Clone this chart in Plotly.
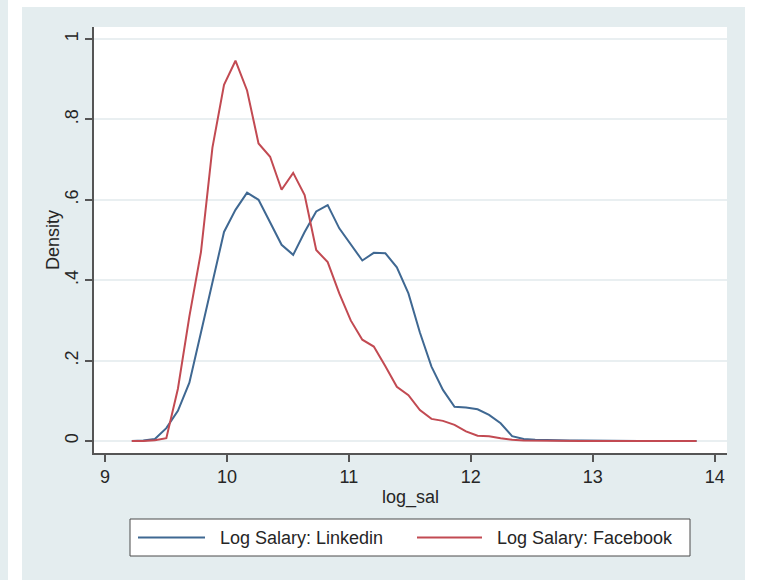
import plotly.graph_objects as go

# Kernel density estimates of log salary, evaluated on a common grid
log_sal = [9.220, 9.314, 9.409, 9.503, 9.598, 9.692, 9.787, 9.881, 9.976, 10.070,
           10.165, 10.259, 10.354, 10.448, 10.543, 10.637, 10.732, 10.826, 10.921, 11.015,
           11.110, 11.204, 11.299, 11.393, 11.488, 11.582, 11.677, 11.771, 11.866, 11.960,
           12.055, 12.149, 12.244, 12.338, 12.433, 12.527, 12.622, 12.716, 12.811, 12.905,
           13.000, 13.094, 13.189, 13.283, 13.378, 13.472, 13.567, 13.661, 13.756, 13.850]

density_linkedin = [0.000, 0.001, 0.005, 0.032, 0.075, 0.145, 0.270, 0.395, 0.520, 0.575,
                    0.618, 0.600, 0.542, 0.488, 0.463, 0.520, 0.571, 0.587, 0.529, 0.488,
                    0.449, 0.468, 0.467, 0.432, 0.367, 0.270, 0.185, 0.127, 0.085, 0.083,
                    0.079, 0.065, 0.044, 0.012, 0.005, 0.003, 0.002, 0.0015, 0.001, 0.001,
                    0.0005, 0.0005, 0.0, 0.0, 0.0, 0.0, 0.0, 0.0, 0.0, 0.0]

density_facebook = [0.000, 0.000, 0.002, 0.007, 0.130, 0.310, 0.470, 0.730, 0.886, 0.946,
                    0.872, 0.740, 0.707, 0.625, 0.667, 0.612, 0.475, 0.445, 0.367, 0.300,
                    0.252, 0.235, 0.186, 0.135, 0.114, 0.077, 0.055, 0.050, 0.040, 0.024,
                    0.013, 0.012, 0.007, 0.003, 0.001, 0.0005, 0.0005, 0.0, 0.0, 0.0,
                    0.0, 0.0, 0.0, 0.0, 0.0, 0.0, 0.0, 0.0, 0.0, 0.0]

x_ticks = [9, 10, 11, 12, 13, 14]
y_ticks = [0, 0.2, 0.4, 0.6, 0.8, 1]
y_tick_text = ["0", ".2", ".4", ".6", ".8", "1"]

series_names = ["Log Salary: Linkedin", "Log Salary: Facebook"]
series_colors = ["#3f6892", "#c24a52"]

FONT = "Liberation Sans, Arial, sans-serif"
TEXT = "#262626"
REGION = "#e4edef"

fig = go.Figure()
for ys, name, col in zip([density_linkedin, density_facebook], series_names, series_colors):
    fig.add_trace(go.Scatter(x=log_sal, y=ys, mode="lines", name=name,
                             line=dict(color=col, width=2), showlegend=False))

# pixel -> paper helpers (plot area spans x 94..727, y 27..453)
L, R, T, B = 94, 727, 27, 453
W, H = 759, 580
def px(x):
    return (x - L) / (R - L)
def py(y):
    return (B - y) / (B - T)

shapes = []
# white strips around the graph region
shapes.append(dict(type="rect", xref="paper", yref="paper", x0=px(8), x1=px(22), y0=py(H), y1=py(0),
                   fillcolor="white", line=dict(width=0), layer="below"))
shapes.append(dict(type="rect", xref="paper", yref="paper", x0=px(8), x1=px(W), y0=py(7), y1=py(0),
                   fillcolor="white", line=dict(width=0), layer="below"))
shapes.append(dict(type="rect", xref="paper", yref="paper", x0=px(745), x1=px(W), y0=py(H), y1=py(0),
                   fillcolor="white", line=dict(width=0), layer="below"))

# legend box and key lines
shapes.append(dict(type="rect", xref="paper", yref="paper", x0=px(130), x1=px(690), y0=py(556), y1=py(519),
                   fillcolor="white", line=dict(color="#4a4a4a", width=1)))
key_y = py(537.5)
for (x0, x1), col in zip([(138, 205), (417, 482)], series_colors):
    shapes.append(dict(type="line", xref="paper", yref="paper", x0=px(x0), x1=px(x1), y0=key_y, y1=key_y,
                       line=dict(color=col, width=2)))

annotations = []
for x0, name in zip([218, 495], series_names):
    annotations.append(dict(xref="paper", yref="paper", x=px(x0), y=key_y, text=name, showarrow=False,
                            xanchor="left", yanchor="middle", font=dict(family=FONT, size=18, color=TEXT)))
annotations.append(dict(xref="paper", yref="paper", x=px(410), y=py(497), text="log_sal", showarrow=False,
                        xanchor="center", yanchor="middle", font=dict(family=FONT, size=18, color=TEXT)))
annotations.append(dict(xref="paper", yref="paper", x=px(53), y=py(240), text="Density", showarrow=False,
                        textangle=-90, xanchor="center", yanchor="middle",
                        font=dict(family=FONT, size=18, color=TEXT)))

fig.update_layout(
    width=W, height=H,
    margin=dict(l=L, r=W - R, t=T, b=H - B),
    paper_bgcolor=REGION,
    plot_bgcolor="white",
    shapes=shapes,
    annotations=annotations,
    font=dict(family=FONT, size=18, color=TEXT),
)
fig.update_xaxes(range=[8.91, 14.10], tickmode="array", tickvals=x_ticks,
                 ticks="outside", ticklen=7, tickwidth=1.5, tickcolor="#555555",
                 showline=True, linecolor="#555555", linewidth=1.5,
                 showgrid=False, zeroline=False, tickfont=dict(size=18, color=TEXT))
fig.update_yaxes(range=[-0.0299, 1.0299], tickmode="array", tickvals=y_ticks, ticktext=y_tick_text,
                 tickangle=-90, ticks="outside", ticklen=7, tickwidth=1.5, tickcolor="#555555",
                 showline=True, linecolor="#555555", linewidth=1.5,
                 showgrid=True, gridcolor="#e9eff1", gridwidth=1.5, zeroline=False,
                 tickfont=dict(size=18, color=TEXT))

fig.write_html("out.html")
